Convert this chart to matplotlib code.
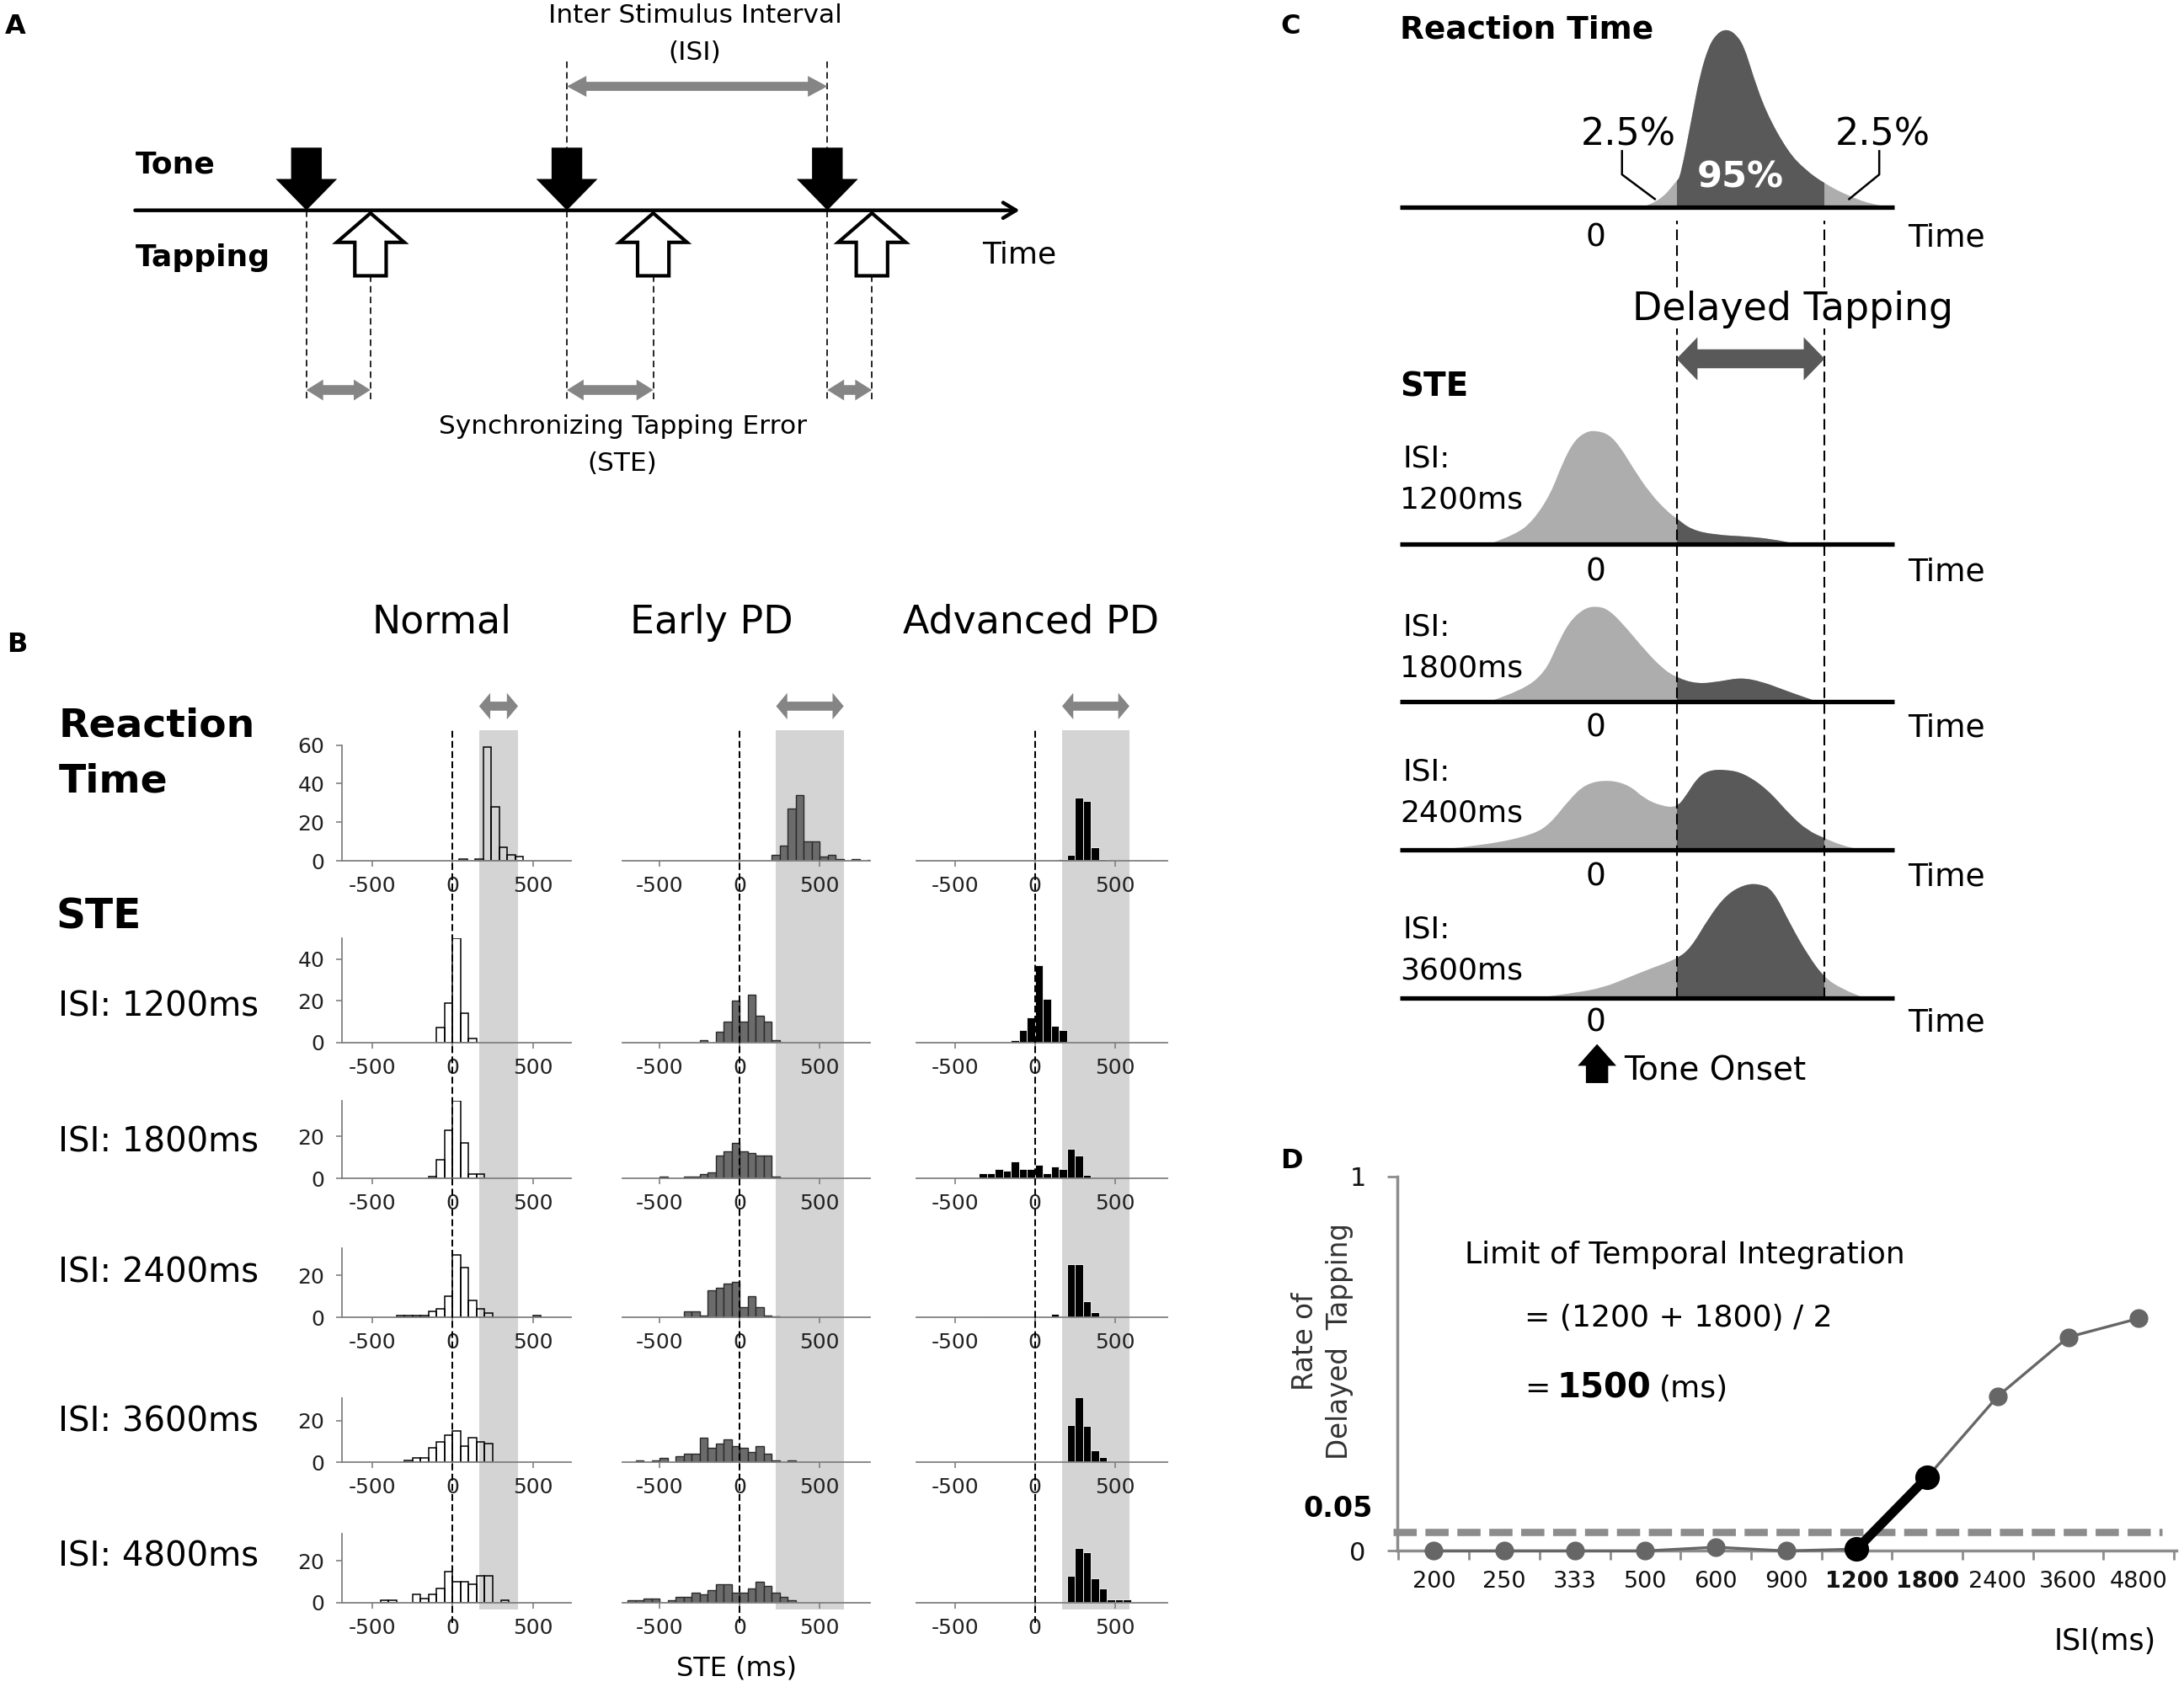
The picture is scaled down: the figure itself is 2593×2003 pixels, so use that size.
import numpy as np
import matplotlib
matplotlib.use("Agg")
import matplotlib.pyplot as plt
from matplotlib.patches import Polygon, FancyArrow, PathPatch, Rectangle
from matplotlib.path import Path

plt.rcParams['font.family'] = ['DejaVu Sans']

# ======================= DATA =======================
# ---- Panel A (schematic positions on the time line) ----
tone_x = [220, 407, 594]
tap_x = [266, 469, 626]

# ---- Panel B : histogram bin centres (ms) and counts ----
row_names = ['ISI: 1200ms', 'ISI: 1800ms', 'ISI: 2400ms', 'ISI: 3600ms', 'ISI: 4800ms']
group_names = ['Normal', 'Early PD', 'Advanced PD']

normal_centers = [
    [65, 165, 215, 265, 315, 365, 415],
    [-75, -25, 25, 75, 125],
    [-125, -75, -25, 25, 75, 125, 175],
    [-325, -275, -225, -175, -125, -75, -25, 25, 75, 125, 175, 225, 525],
    [-275, -225, -175, -125, -75, -25, 25, 75, 125, 175, 225],
    [-425, -375, -225, -175, -125, -75, -25, 25, 75, 125, 175, 225, 325],
]
normal_counts = [
    [1, 1, 59, 28, 7, 3, 2],
    [7, 19, 50, 14, 2],
    [1, 9, 23, 37, 17, 2, 2],
    [1, 1, 1, 1, 3, 4, 10, 30, 24, 8, 4, 2, 1],
    [1, 2, 2, 7, 10, 13, 15, 8, 12, 10, 9],
    [1, 1, 4, 2, 4, 7, 15, 10, 10, 9, 13, 13, 1],
]
early_centers = [
    [225, 275, 325, 375, 425, 475, 525, 575, 625, 725, 825],
    [-225, -125, -75, -25, 25, 75, 125, 175, 225],
    [-475, -325, -275, -225, -175, -125, -75, -25, 25, 75, 125, 175, 225],
    [-325, -275, -225, -175, -125, -75, -25, 25, 75, 125, 175, 225],
    [-625, -525, -475, -375, -325, -275, -225, -175, -125, -75, -25, 25, 75, 125, 175, 225, 325],
    [-675, -625, -575, -525, -425, -375, -325, -275, -225, -175, -125, -75, -25, 25, 75, 125, 175, 225, 275, 325],
]
early_counts = [
    [3, 8, 27, 34, 10, 10, 2, 3, 1, 1, 0.5],
    [1, 5, 10, 20, 10, 23, 13, 10, 1],
    [1, 1, 1, 2, 3, 11, 13, 17, 13, 12, 11, 11, 1],
    [3, 3, 1, 13, 14, 16, 17, 5, 10, 5, 1, 0.5],
    [1, 1, 2, 3, 4, 4, 12, 7, 9, 11, 8, 7, 5, 8, 4, 1, 1],
    [1, 1, 2, 2, 1, 3, 3, 5, 4, 6, 9, 9, 5, 5, 7, 10, 8, 5, 3, 1],
]
adv_centers = [
    [175, 225, 275, 325, 375, 425, 475, 525, 675],
    [-125, -75, -25, 25, 75, 125, 175],
    [-475, -425, -325, -275, -225, -175, -125, -75, -25, 25, 75, 125, 175, 225, 275, 325, 375],
    [-275, 25, 125, 175, 225, 275, 325, 375],
    [175, 225, 275, 325, 375, 425, 475, 525, 575],
    [225, 275, 325, 375, 425, 475, 525, 575, 675],
]
adv_counts = [
    [1, 3, 33, 31, 7, 1, 0.5, 0.5, 0.5],
    [1, 6, 12, 37, 21, 8, 6],
    [0.5, 0.5, 2.5, 2.5, 4.5, 3.5, 8, 4.5, 4.5, 6.5, 2.5, 5.5, 4.5, 14, 11, 1.5, 0.5],
    [0.3, 0.3, 1.5, 0.5, 25.5, 25.5, 7.6, 2.6],
    [0.5, 18, 34, 17.7, 6, 2.7, 0.5, 0.5, 0.5],
    [13, 26, 24, 11.6, 6.7, 1.5, 1.5, 1.5, 0.5],
]
rt_band = [(165, 408), (228, 650), (170, 590)]   # 95% range of reaction time (ms)
bin_width = 50
xtick_vals = [-500, 0, 500]
ytick_sets = [[0, 20, 40, 60], [0, 20, 40], [0, 20], [0, 20], [0, 20], [0, 20]]
row_ymax = [60, 50, 37, 33, 31, 33]

# ---- Panel C : schematic distributions (time in ms, relative height) ----
c_labels = ['1200ms', '1800ms', '2400ms', '3600ms']
c_window = (145, 411)
c_rt_t = [82, 114, 145, 152, 174, 187, 203, 218, 234, 250, 266, 282, 306, 345, 376, 411, 455, 497, 537]
c_rt_d = [0, 4, 19, 22, 68, 95, 116, 125, 128, 125, 116, 95, 68, 40, 27, 17, 8, 2, 0]
c_1200_t = [-191, -144, -112, -81, -60, -39, -18, 0, 24, 45, 66, 98, 129, 145, 171, 213, 276, 318, 360]
c_1200_d = [0, 6.5, 17, 36, 58, 74, 80.5, 81.4, 78.6, 69, 55, 36, 23, 18.4, 10.3, 6.5, 5.2, 3.3, 0]
c_1800_t = [-191, -133, -91, -70, -49, -23, 0, 24, 56, 87, 119, 145, 182, 224, 260, 297, 339, 371, 397]
c_1800_d = [0, 7.6, 21, 40, 56.4, 66.4, 68.6, 65.9, 52.3, 37.4, 23.9, 17.1, 12.5, 14.4, 17.1, 14.4, 8.1, 3.5, 0]
c_2400_t = [-280, -196, -112, -81, -49, -18, 24, 61, 87, 119, 145, 161, 182, 203, 234, 266, 308, 350, 381, 411, 444, 476]
c_2400_d = [0, 3.3, 10.8, 19, 35.3, 47.5, 50.2, 46.1, 36.6, 31.2, 30.4, 38, 51.5, 57, 57.5, 54.8, 43.4, 24.4, 13.6, 8.1, 2.7, 0]
c_3600_t = [-102, -39, 14, 56, 98, 145, 171, 203, 234, 266, 292, 318, 350, 381, 411, 444, 481]
c_3600_d = [0, 3.3, 7.3, 14.1, 20.9, 27.7, 35.8, 57.5, 73.8, 81.1, 81.9, 77.8, 52.1, 30.4, 14.1, 6, 0]

# ---- Panel D ----
isi_labels = ['200', '250', '333', '500', '600', '900', '1200', '1800', '2400', '3600', '4800']
delayed_rate = [0, 0, 0, 0, 0.01, 0, 0.005, 0.197, 0.413, 0.571, 0.621]
threshold = 0.05
limit_pair = ('1200', '1800')

# ======================= LAYOUT =======================
W, H = 1568.0, 1211.2          # reference layout units (display px)
fig = plt.figure(figsize=(25.93, 20.03), dpi=100)
fig.patch.set_facecolor('white')


def rect(x0, y_bottom, w, h):
    return [x0 / W, 1 - y_bottom / H, w / W, h / H]


ov = fig.add_axes([0, 0, 1, 1], zorder=10)
ov.set_xlim(0, W)
ov.set_ylim(H, 0)
ov.axis('off')


def T(x, y, s, size, ha='left', va='center', **kw):
    ov.text(x, y, s, fontsize=size, ha=ha, va=va, **kw)


def double_arrow(x1, x2, y, shaft, head_w, head_l, color):
    s, hw = shaft / 2.0, head_w / 2.0
    pts = [(x1, y), (x1 + head_l, y - hw), (x1 + head_l, y - s), (x2 - head_l, y - s),
           (x2 - head_l, y - hw), (x2, y), (x2 - head_l, y + hw), (x2 - head_l, y + s),
           (x1 + head_l, y + s), (x1 + head_l, y + hw)]
    ov.add_patch(Polygon(pts, closed=True, fc=color, ec='none', zorder=5))


GRAY_ARROW = '#858585'

# ======================= PANEL A =======================
T(11, 19, 'A', 23, ha='center', weight='bold')
line_y = 151
ov.annotate('', xy=(732, line_y), xytext=(97, line_y),
            arrowprops=dict(arrowstyle='->,head_length=0.55,head_width=0.33', lw=3.2,
                            color='black', shrinkA=0, shrinkB=0, mutation_scale=20))
dash_a = (0, (4.6, 3.0))
for i, x in enumerate(tone_x):
    top = line_y if i == 0 else 44
    ov.plot([x, x], [top, 288], color='black', lw=1.2, ls=dash_a, zorder=2)
    ov.add_patch(FancyArrow(x, 106, 0, line_y - 106, width=22, head_width=44, head_length=22.5,
                            length_includes_head=True, fc='black', ec='black', lw=0, zorder=4))
for x in tap_x:
    ov.plot([x, x], [198, 288], color='black', lw=1.2, ls=dash_a, zorder=2)
    ov.add_patch(FancyArrow(x, 198, 0, -45, width=22.5, head_width=48.5, head_length=21,
                            length_includes_head=True, fc='white', ec='black', lw=3, zorder=4))
double_arrow(tone_x[1], tone_x[2], 62, 6.5, 15, 14, GRAY_ARROW)
for a, b in zip(tone_x, tap_x):
    double_arrow(a, b, 280, 7, 15, 12, GRAY_ARROW)
T(499, 11, 'Inter Stimulus Interval', 22.5, ha='center')
T(499, 38, '(ISI)', 22.5, ha='center')
T(447, 306, 'Synchronizing Tapping Error', 22.5, ha='center')
T(447, 333, '(STE)', 22.5, ha='center')
T(97, 118, 'Tone', 26, weight='bold')
T(97, 185, 'Tapping', 26, weight='bold')
T(705, 183, 'Time', 26)

# ======================= PANEL B =======================
T(12, 463, 'B', 23, ha='center', weight='bold')
col_zero = [325, 531, 743]
col_xlim = [(-690, 740), (-730, 815), (-740, 825)]
PX_PER_MS = 0.115
row_base = [618, 748.5, 846, 945.8, 1050, 1150.7]
row_px = [83 / 60, 1.5, 1.5, 1.5, 1.5, 1.5]
band_top, band_bottom, dash_bottom = 524, 1155.5, 1165
title_x = [317, 511, 740]
hist_styles = [dict(facecolor='none', edgecolor='black', linewidth=1.1),
               dict(facecolor='#6b6b6b', edgecolor='#2a2a2a', linewidth=1.0),
               dict(facecolor='black', edgecolor='white', linewidth=0.6)]
centers_all = [normal_centers, early_centers, adv_centers]
counts_all = [normal_counts, early_counts, adv_counts]
AX_GRAY = '#808080'

for j in range(3):
    x0 = col_zero[j] + col_xlim[j][0] * PX_PER_MS
    w = (col_xlim[j][1] - col_xlim[j][0]) * PX_PER_MS
    bg = fig.add_axes(rect(x0, band_bottom, w, band_bottom - band_top), zorder=0)
    bg.set_xlim(col_xlim[j]); bg.set_ylim(0, 1); bg.axis('off')
    bg.axvspan(rt_band[j][0], rt_band[j][1], color='#d4d4d4', lw=0)
    dz = fig.add_axes(rect(x0, dash_bottom, w, dash_bottom - band_top), zorder=2)
    dz.set_xlim(col_xlim[j]); dz.set_ylim(0, 1); dz.axis('off')
    dz.axvline(0, color='black', lw=1.45, ls=(0, (4, 2)))
    # arrow above the band (band edges converted through the column scale)
    p1 = bg.transData.transform((rt_band[j][0], 0))
    p2 = bg.transData.transform((rt_band[j][1], 0))
    ox1 = ov.transData.inverted().transform(p1)[0]
    ox2 = ov.transData.inverted().transform(p2)[0]
    double_arrow(ox1, ox2, 507, 6.5, 19, 8, GRAY_ARROW)
    T(title_x[j], 447, group_names[j], 33, ha='center')

    for i in range(6):
        ax = fig.add_axes(rect(x0, row_base[i], w, row_ymax[i] * row_px[i]), zorder=1)
        ax.patch.set_visible(False)
        ax.bar(centers_all[j][i], counts_all[j][i], width=bin_width, align='center',
               **hist_styles[j], zorder=2)
        ax.set_xlim(col_xlim[j]); ax.set_ylim(0, row_ymax[i])
        for s in ['top', 'right']:
            ax.spines[s].set_visible(False)
        ax.spines['bottom'].set_color(AX_GRAY); ax.spines['bottom'].set_linewidth(1.3)
        ax.set_xticks(xtick_vals)
        ax.set_xticklabels([str(v) for v in xtick_vals], fontsize=18, color='#222222')
        ax.tick_params(axis='x', length=5, width=1.2, color=AX_GRAY, pad=8)
        if j == 0:
            ax.spines['left'].set_color(AX_GRAY); ax.spines['left'].set_linewidth(1.3)
            ax.set_yticks(ytick_sets[i])
            ax.set_yticklabels([str(v) for v in ytick_sets[i]], fontsize=18, color='#222222')
            ax.tick_params(axis='y', length=5, width=1.2, color=AX_GRAY, pad=10)
        else:
            ax.spines['left'].set_visible(False)
            ax.set_yticks([])

T(42, 521, 'Reaction', 34, weight='bold')
T(42, 561, 'Time', 34, weight='bold')
T(40, 658, 'STE', 35, weight='bold')
for name, y in zip(row_names, [723, 820, 914, 1021, 1118]):
    T(42, y, name, 29)
T(529, 1198, 'STE (ms)', 23, ha='center')

# ======================= PANEL C =======================
T(926.5, 19, 'C', 23, ha='center', weight='bold')
LIGHT, DARK = '#adadad', '#595959'
C_LEFT, C_W = 1005, 355
c_xlim = (-352, 536)
c_base = [148.9, 390.5, 503.6, 610, 716.3]
curves = [(c_rt_t, c_rt_d), (c_1200_t, c_1200_d), (c_1800_t, c_1800_d),
          (c_2400_t, c_2400_d), (c_3600_t, c_3600_d)]


def smooth_area_path(t, d):
    """Closed area under the read points, drawn with quadratic Bezier segments."""
    pts = list(zip(t, d))
    verts = [(t[0], 0.0), pts[0]]
    codes = [Path.MOVETO, Path.LINETO]
    for k in range(1, len(pts) - 1):
        mid = ((pts[k][0] + pts[k + 1][0]) / 2.0, (pts[k][1] + pts[k + 1][1]) / 2.0)
        verts += [pts[k], mid]
        codes += [Path.CURVE3, Path.CURVE3]
    verts += [pts[-1], (t[-1], 0.0), (t[0], 0.0)]
    codes += [Path.LINETO, Path.LINETO, Path.CLOSEPOLY]
    return Path(verts, codes)


c_axes = []
for (ct, cd), yb in zip(curves, c_base):
    ax = fig.add_axes(rect(C_LEFT, yb, C_W, 135), zorder=3)
    ax.set_xlim(c_xlim); ax.set_ylim(0, 135); ax.axis('off')
    path = smooth_area_path(ct, cd)
    ax.add_patch(PathPatch(path, fc=LIGHT, ec='none', zorder=1))
    dark = PathPatch(path, fc=DARK, ec='none', zorder=2)
    ax.add_patch(dark)
    clip = Rectangle((c_window[0], -5), c_window[1] - c_window[0], 200,
                     transform=ax.transData)
    dark.set_clip_path(clip)
    ax.plot(c_xlim, [0, 0], color='black', lw=3.8, solid_capstyle='butt', clip_on=False, zorder=3)
    c_axes.append(ax)

rt_ax = c_axes[0]
rt_ax.plot([47, 47, 106], [40.4, 23.6, 6], color='black', lw=1.8)
rt_ax.plot([509, 509, 455], [40.4, 23.6, 6], color='black', lw=1.8)
rt_ax.text(58, 52, '2.5%', fontsize=32, ha='center', va='center')
rt_ax.text(515, 52, '2.5%', fontsize=32, ha='center', va='center')
rt_ax.text(260, 21.4, '95%', fontsize=31, ha='center', va='center', color='white',
           weight='bold', zorder=5)

cd_ax = fig.add_axes(rect(C_LEFT, 716.3, C_W, 716.3 - 158.7), zorder=4)
cd_ax.set_xlim(c_xlim); cd_ax.set_ylim(0, 1); cd_ax.axis('off')
for v in c_window:
    cd_ax.axvline(v, color='black', lw=1.5, ls=(0, (6, 3)))

T(1005, 21.7, 'Reaction Time', 27, weight='bold')
T(1005, 278, 'STE', 28, weight='bold')
T(1287, 222, 'Delayed Tapping', 33, ha='center',
  bbox=dict(fc='white', ec='none', pad=0))
double_arrow(1203.7, 1310, 257.6, 13.6, 31, 15, '#595959')
for y0 in [171, 411, 522.6, 629.5, 734.7]:
    T(1145.7, y0, '0', 27, ha='center')
    T(1369.6, y0, 'Time', 27)
for lab, y1, y2 in zip(c_labels, [329.5, 450, 554, 667], [359, 479.8, 584, 697]):
    T(1007, y1, 'ISI:', 26)
    T(1005, y2, lab, 26)
ov.add_patch(FancyArrow(1146.6, 777.6, 0, -28, width=16, head_width=27.7, head_length=15.6,
                        length_includes_head=True, fc='black', ec='black', lw=0, zorder=5))
T(1166, 768.6, 'Tone Onset', 28)

# ======================= PANEL D =======================
T(927, 833.6, 'D', 23, ha='center', weight='bold')
D_GRAY = '#8c8c8c'
axd = fig.add_axes(rect(1003.4, 1113.5, 559.4, 268.8), zorder=5)
axd.patch.set_visible(False)
xs = np.arange(len(isi_labels))
rate = np.asarray(delayed_rate)
axd.set_xlim(-0.514, 10.54); axd.set_ylim(0, 1)
axd.plot(xs, rate, '-o', color='#666666', lw=2.4, ms=15, clip_on=False, zorder=3)
i1, i2 = isi_labels.index(limit_pair[0]), isi_labels.index(limit_pair[1])
axd.plot(xs[i1:i2 + 1], rate[i1:i2 + 1], '-o', color='black', lw=8, ms=20,
         clip_on=False, zorder=4, solid_capstyle='round')
axd.axhline(threshold, xmin=-0.006, xmax=0.981, color=D_GRAY, lw=6.2,
            ls=(0, (3.2, 1.2)), clip_on=False, zorder=2)
for s in ['top', 'right']:
    axd.spines[s].set_visible(False)
for s in ['left', 'bottom']:
    axd.spines[s].set_color(D_GRAY); axd.spines[s].set_linewidth(2.5)
axd.set_xticks(xs)
axd.set_xticklabels(isi_labels, fontsize=19.5, color='#111111')
for lbl in axd.get_xticklabels():
    if lbl.get_text() in limit_pair:
        lbl.set_fontweight('bold')
axd.tick_params(axis='x', which='major', length=0, pad=16.7)
axd.set_xticks(np.arange(-0.5, len(isi_labels), 1), minor=True)
axd.tick_params(axis='x', which='minor', length=7.8, width=2, color=D_GRAY)
axd.set_yticks([0, 1])
axd.set_yticklabels(['0', '1'], fontsize=22, color='#111111')
axd.tick_params(axis='y', length=9, width=2, color=D_GRAY, pad=18)
axd.annotate('0.05', xy=(0, threshold), xycoords=('axes fraction', 'data'),
             xytext=(-21.5, 19.6), textcoords='offset points', ha='right', va='center',
             fontsize=24, weight='bold')
T(937, 963, 'Rate of', 23.5, ha='center', rotation=90, color='#333333')
T(962, 963, 'Delayed  Tapping', 23.5, ha='center', rotation=90, color='#333333')
T(1051.7, 900.8, 'Limit of Temporal Integration', 26)
T(1094.5, 946.5, '= (1200 + 1800) / 2', 26)
T(1094.5, 997.4, '=', 26)
T(1117.6, 996.7, '1500', 29, weight='bold')
T(1191, 997.4, '(ms)', 26)
T(1511.4, 1178.7, 'ISI(ms)', 25, ha='center')

fig.savefig('out.png', dpi=100, facecolor='white')
